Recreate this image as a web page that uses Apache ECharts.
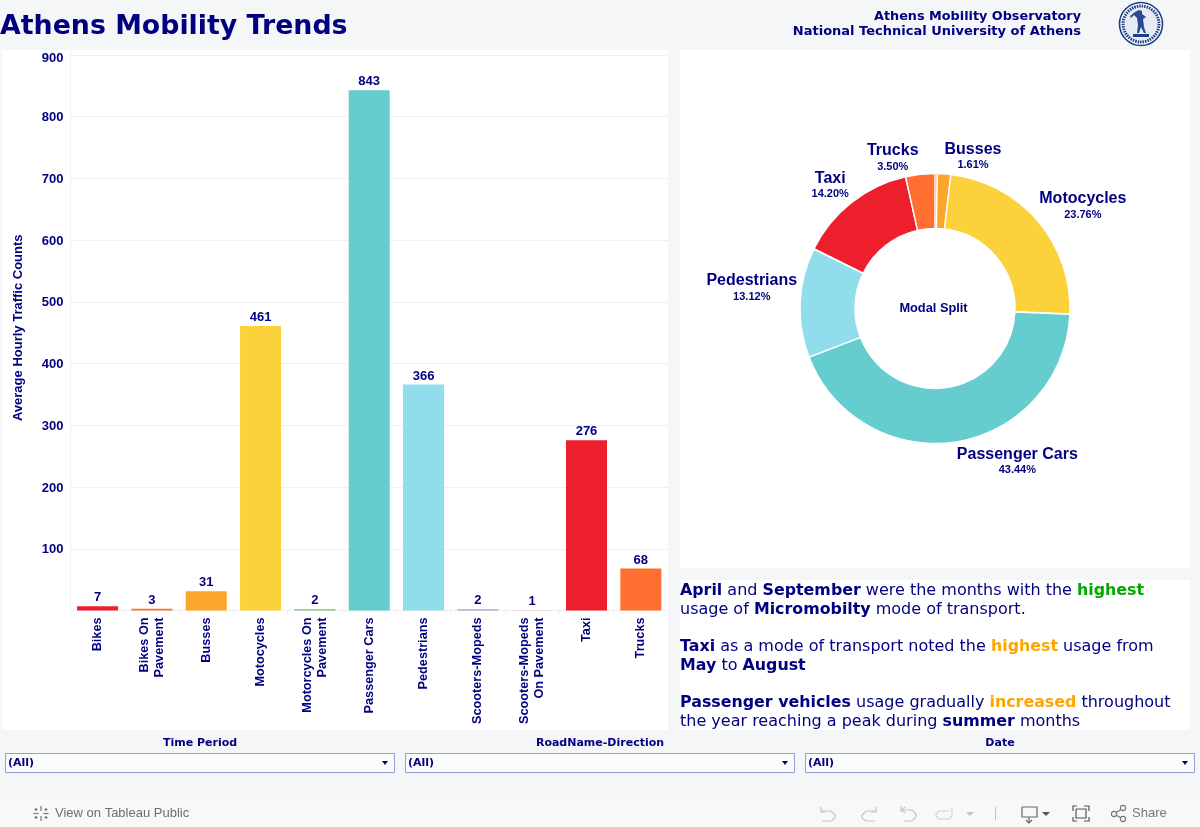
<!DOCTYPE html>
<html><head><meta charset="utf-8">
<style>html,body{margin:0;padding:0;background:#f5f6f8}#c{width:1200px;height:827px}</style>
<script src="https://cdn.jsdelivr.net/npm/echarts@6/dist/echarts.min.js"></script>
</head><body><div id="c"></div>
<script>
const categories = ['Bikes','Bikes On\nPavement','Busses','Motocycles','Motorcycles On\nPavement','Passenger Cars','Pedestrians','Scooters-Mopeds','Scooters-Mopeds\nOn Pavement','Taxi','Trucks'];
const barValues = [7,3,31,461,2,843,366,2,1,276,68];
const colors = ['#ED1F2D','#FF7030','#FBA62A','#FBD23B','#6DBE6D','#65CDCD','#92DDEC','#A99FDE','#F3C6CF','#ED1F2D','#FF7030'];
const shareNames = ['Bikes','Bikes On Pavement','Busses','Motocycles','Motorcycles On Pavement','Passenger Cars','Pedestrians','Scooters-Mopeds','Scooters-Mopeds On Pavement','Taxi','Trucks'];
const shareValues = [0.20,0.07,1.61,23.76,0.05,43.44,13.12,0.03,0.02,14.20,3.50];
const labelledShares = ['Busses','Motocycles','Passenger Cars','Pedestrians','Taxi','Trucks'];
const labelNudge = {Busses:[-6,-12],Motocycles:[-9,-12],'Passenger Cars':[-7,13],Pedestrians:[9,-15],Taxi:[7,-13],Trucks:[5,-11]};
const yTicks = [100,200,300,400,500,600,700,800,900];
const filters = ['Time Period','RoadName-Direction','Date'];
const noteLines = [
 '{b|April} {r|and} {b|September} {r|were the months with the} {g|highest}',
 '{r|usage of} {b|Micromobilty} {r|mode of transport.}',
 '{b|Taxi} {r|as a mode of transport noted the} {o|highest} {r|usage from}',
 '{b|May} {r|to} {b|August}',
 '{b|Passenger vehicles} {r|usage gradually} {o|increased} {r|throughout}',
 '{r|the year reaching a peak during} {b|summer} {r|months}'
];
const noteY = [591,610,647,666,703,722];
const NAVY='#000080', SANS='"Liberation Sans",Arial,sans-serif', DJ='"DejaVu Sans",sans-serif';
const noteRich = {
 b:{font:'bold 15.85px '+DJ,fill:NAVY}, r:{font:'16px '+DJ,fill:NAVY},
 g:{font:'bold 15.85px '+DJ,fill:'#00AA00'}, o:{font:'bold 15.85px '+DJ,fill:'#FFA500'}
};
const T=(x,y,text,font,fill,align)=>({type:'text',z:20,x,y,style:{text,font,fill:fill||NAVY,align:align||'left',verticalAlign:'middle'}});
const R=(x,y,w,h,fill,stroke,z)=>({type:'rect',z:z===undefined?-5:z,shape:{x,y,width:w,height:h},style:{fill,stroke:stroke||null,lineWidth:stroke?1:0}});
const PL=(pts,stroke,lw)=>({type:'polyline',z:20,shape:{points:pts},style:{fill:null,stroke:stroke||'#c4c4c4',lineWidth:lw||1.2}});
const gfx=[
 R(0,800,1200,27,'#f8f8f9'),
 R(2,50,666,680,'#fff'), R(680,50,510,518,'#fff'), R(680,580,510,150,'#fff'),
 {type:'line',z:1,shape:{x1:70.5,y1:50,x2:70.5,y2:56},style:{stroke:'#f0f0f0',lineWidth:1}},
 T(0,27,'Athens Mobility Trends','bold 26.8px '+DJ),
 T(1081,17,'Athens Mobility Observatory','bold 12.8px '+DJ,NAVY,'right'),
 T(1081,32,'National Technical University of Athens','bold 13px '+DJ,NAVY,'right'),
 // seal
 {type:'circle',z:20,shape:{cx:1141,cy:24,r:21.5},style:{fill:'#fff',stroke:'#1d3f86',lineWidth:1.6}},
 {type:'circle',z:20,shape:{cx:1141,cy:24,r:18},style:{fill:'#e6ebf4',stroke:'#1d3f86',lineWidth:3,lineDash:[1.5,1]}},
 {type:'polygon',z:21,shape:{points:[[1139,10],[1142,11],[1142,14],[1146,17],[1143,19],[1144,27],[1146,33],[1144,33],[1141,27],[1139,33],[1137,33],[1138,25],[1137,18],[1134,15],[1131,18],[1130,16],[1135,12]]},style:{fill:'#2a4a90'}},
 R(1133,34,16,3,'#1d3f86',null,21),
 // toolbar
 T(55,813.5,'View on Tableau Public','13px '+SANS,'#6e6e6e'),
 PL([[41,806],[41,811]],'#777'),PL([[41,816],[41,821]],'#777'),PL([[33.5,813.5],[38.5,813.5]],'#777'),PL([[43.5,813.5],[48.5,813.5]],'#777'),
 PL([[36,808],[36,811]],'#777'),PL([[34.5,809.5],[37.5,809.5]],'#777'),PL([[46,808],[46,811]],'#777'),PL([[44.5,809.5],[47.5,809.5]],'#777'),
 PL([[36,816],[36,819]],'#777'),PL([[34.5,817.5],[37.5,817.5]],'#777'),PL([[46,816],[46,819]],'#777'),PL([[44.5,817.5],[47.5,817.5]],'#777'),
 PL([[821,807],[821,812],[826,812]]),PL([[821,811],[831,811],[835,815],[835,818],[831,821],[822,821]]),
 PL([[876,807],[876,812],[871,812]]),PL([[876,811],[866,811],[862,815],[862,818],[866,821],[875,821]]),
 PL([[901,806],[901,812]]),PL([[905,807],[902,810],[905,813]]),PL([[902,810],[912,810],[916,814],[916,817],[912,821],[904,821]]),
 PL([[952,808],[952,813]],'#d0d0d0'),PL([[949,811],[939,811],[936,814],[936,816],[939,819],[949,819],[952,816],[952,814]],'#d0d0d0'),
 {type:'polygon',z:20,shape:{points:[[966,812],[974,812],[970,816]]},style:{fill:'#c4c4c4'}},
 PL([[995.5,807],[995.5,820]],'#c4c4c4',1),
 PL([[1022,807],[1037,807],[1037,817],[1022,817],[1022,807]],'#666'),PL([[1029,817],[1029,823]],'#666'),PL([[1026,820],[1029,823],[1032,820]],'#666'),
 {type:'polygon',z:20,shape:{points:[[1042,812],[1050,812],[1046,816]]},style:{fill:'#555'}},
 PL([[1073,811],[1073,806],[1077,806]],'#555'),PL([[1084,806],[1089,806],[1089,811]],'#555'),PL([[1089,817],[1089,821],[1084,821]],'#555'),PL([[1077,821],[1073,821],[1073,817]],'#555'),
 PL([[1076,809],[1086,809],[1086,818],[1076,818],[1076,809]],'#555'),
 PL([[1114,814],[1123,808]],'#777'),PL([[1114,814],[1123,819]],'#777'),
 {type:'circle',z:20,shape:{cx:1114,cy:814,r:2.6},style:{fill:'#f8f8f9',stroke:'#777',lineWidth:1.1}},
 {type:'circle',z:20,shape:{cx:1123,cy:808,r:2.6},style:{fill:'#f8f8f9',stroke:'#777',lineWidth:1.1}},
 {type:'circle',z:20,shape:{cx:1123,cy:819,r:2.6},style:{fill:'#f8f8f9',stroke:'#777',lineWidth:1.1}},
 T(1132,813.5,'Share','13px '+SANS,'#777'),
 T(933.5,308.5,'Modal Split','bold 12.8px '+SANS,NAVY,'center')
];
noteLines.forEach((t,i)=>gfx.push({type:'text',z:20,x:680,y:noteY[i],style:{text:t,rich:noteRich,font:'16px '+DJ,fill:NAVY,verticalAlign:'middle'}}));
filters.forEach((f,i)=>{
 const x=5+400*i, w=390;
 gfx.push(T(x+195,743,f,'bold 11px '+DJ,NAVY,'center'));
 gfx.push(R(x+.5,753.5,w-1,19,'#fafbfb','#9b9bd8',1));
 gfx.push(T(x+3,763,'(All)','bold 11px '+DJ));
 gfx.push({type:'polygon',z:20,shape:{points:[[x+377,761],[x+383,761],[x+380,765]]},style:{fill:NAVY}});
});
const chart=echarts.init(document.getElementById('c'));
chart.setOption({
 animation:false,
 backgroundColor:'#f5f6f8',
 graphic:{elements:gfx},
 grid:{left:70.4,right:532,top:55,bottom:216.5,containLabel:false},
 xAxis:{type:'category',data:categories,
  axisLine:{lineStyle:{color:'#eeeeee'}},
  axisTick:{show:true,length:4,lineStyle:{color:'#eeeeee'}},
  axisLabel:{rotate:90,interval:0,margin:7,fontFamily:SANS,fontWeight:'bold',fontSize:12.7,color:NAVY,lineHeight:15,align:'right',verticalAlign:'middle'}},
 yAxis:{type:'value',min:0,max:900,interval:100,
  name:'Average Hourly Traffic Counts',nameLocation:'middle',nameGap:45,nameRotate:90,
  nameTextStyle:{fontFamily:SANS,fontWeight:'bold',fontSize:13,color:NAVY,padding:[0,0,0,10]},
  axisLine:{show:true,lineStyle:{color:'#f0f0f0'}},axisTick:{show:false},
  splitLine:{lineStyle:{color:'#f0f0f0'}},
  axisLabel:{margin:7,fontFamily:SANS,fontWeight:'bold',fontSize:13,color:NAVY,
   padding:[2,0,0,0],
   formatter:v=>!yTicks.includes(v)?'':(v===900?'{top|900}':String(v)),
   rich:{top:{fontFamily:SANS,fontWeight:'bold',fontSize:13,color:NAVY,padding:[4,0,0,0]}}}},
 series:[
  {type:'bar',data:barValues.map((v,i)=>({value:v,itemStyle:{color:colors[i]}})),barWidth:41,
   label:{show:true,position:'top',distance:2,fontFamily:SANS,fontWeight:'bold',fontSize:13,color:NAVY}},
  {type:'pie',center:[935,308.5],radius:[80,135],startAngle:90,clockwise:true,avoidLabelOverlap:false,
   data:shareNames.map((n,i)=>({name:n,value:shareValues[i],itemStyle:{color:colors[i],borderColor:'#fff',borderWidth:i===0||i===1||i===4||i===7||i===8?0.4:1.4},
     label:{show:labelledShares.includes(n)},labelLine:{show:false}})),
   label:{position:'outside',distanceToLabelLine:2,formatter:p=>'{n|'+p.name+'}\n{p|'+p.value.toFixed(2)+'%}',
    rich:{n:{fontFamily:SANS,fontWeight:'bold',fontSize:16,color:NAVY,lineHeight:19,align:'center'},p:{fontFamily:SANS,fontWeight:'bold',fontSize:11,color:NAVY,lineHeight:13,align:'center'}}},
   labelLine:{show:false,length:6,length2:4},
   labelLayout:p=>{const k=labelNudge[shareNames[p.dataIndex]]||[0,0];return {dx:k[0],dy:k[1]};}
  }
 ]
});
</script></body></html>
